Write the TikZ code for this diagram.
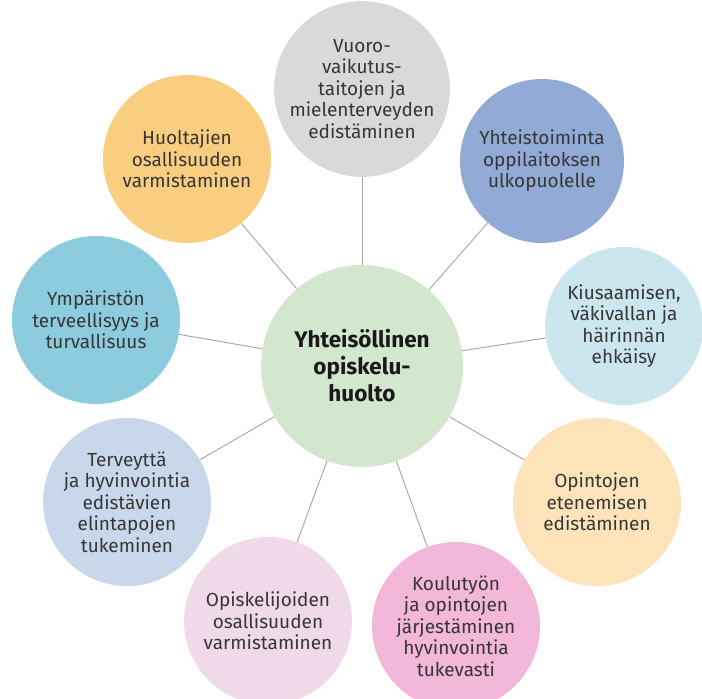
\documentclass[tikz,border=0pt]{standalone}
\usepackage{fontspec}
\setmainfont{Fira Sans}
\usetikzlibrary{backgrounds}
\definecolor{cgray}{HTML}{D9D9D9}
\definecolor{cblue}{HTML}{91ABD6}
\definecolor{clblue}{HTML}{CBE6EF}
\definecolor{cpeach}{HTML}{FDE3BA}
\definecolor{cpink}{HTML}{F2B7D9}
\definecolor{clpink}{HTML}{F0DAE9}
\definecolor{cbgray}{HTML}{C9D7EB}
\definecolor{cteal}{HTML}{8DCBDF}
\definecolor{corange}{HTML}{F9CE80}
\definecolor{cgreen}{HTML}{D3E7CF}
\definecolor{ctext}{HTML}{363636}
\definecolor{cline}{HTML}{A3A3A3}
\tikzset{
  outer/.style={circle, inner sep=0pt, minimum size=168pt, align=center, text=ctext,
    font=\fontsize{19}{21.5}\selectfont},
  hub/.style={circle, inner sep=0pt, minimum size=202pt, align=center, fill=cgreen, text=black!90,
    font=\fontsize{22.5}{27}\selectfont\bfseries},
  link/.style={draw=cline, line width=0.9pt}
}
\begin{document}
\begin{tikzpicture}[x=1pt,y=-1pt]
\useasboundingbox (0,0) rectangle (702,699);
\node[hub] (c) at (362,366) {Yhteisöllinen\\opiskelu-\\huolto};
\node[outer, fill=cgray, minimum size=170pt] (n1) at (362,89) {Vuoro-\\vaikutus-\\taitojen ja\\mielenterveyden\\edistäminen};
\node[outer, fill=cblue, minimum size=164pt] (n2) at (542,161) {Yhteistoiminta\\oppilaitoksen\\ulkopuolelle};
\node[outer, fill=clblue, minimum size=158pt] (n3) at (624,326) {Kiusaamisen,\\väkivallan ja\\häirinnän\\ehkäisy};
\node[outer, fill=cpeach] (n4) at (597,502) {Opintojen\\etenemisen\\edistäminen};
\node[outer, fill=cpink] (n5) at (456,626) {Koulutyön\\ja opintojen\\järjestäminen\\hyvinvointia\\tukevasti};
\node[outer, fill=clpink] (n6) at (268,621) {Opiskelijoiden\\osallisuuden\\varmistaminen};
\node[outer, fill=cbgray] (n7) at (127,502) {Terveyttä\\ja hyvinvointia\\edistävien\\elintapojen\\tukeminen};
\node[outer, fill=cteal] (n8) at (96,320) {Ympäristön\\terveellisyys ja\\turvallisuus};
\node[outer, fill=corange] (n9) at (187,159) {Huoltajien\\osallisuuden\\varmistaminen};
\begin{pgfonlayer}{background}
\foreach \n in {n1,n2,n3,n4,n5,n6,n7,n8,n9}
  \draw[link] (c) -- (\n);
\end{pgfonlayer}
\end{tikzpicture}
\end{document}
